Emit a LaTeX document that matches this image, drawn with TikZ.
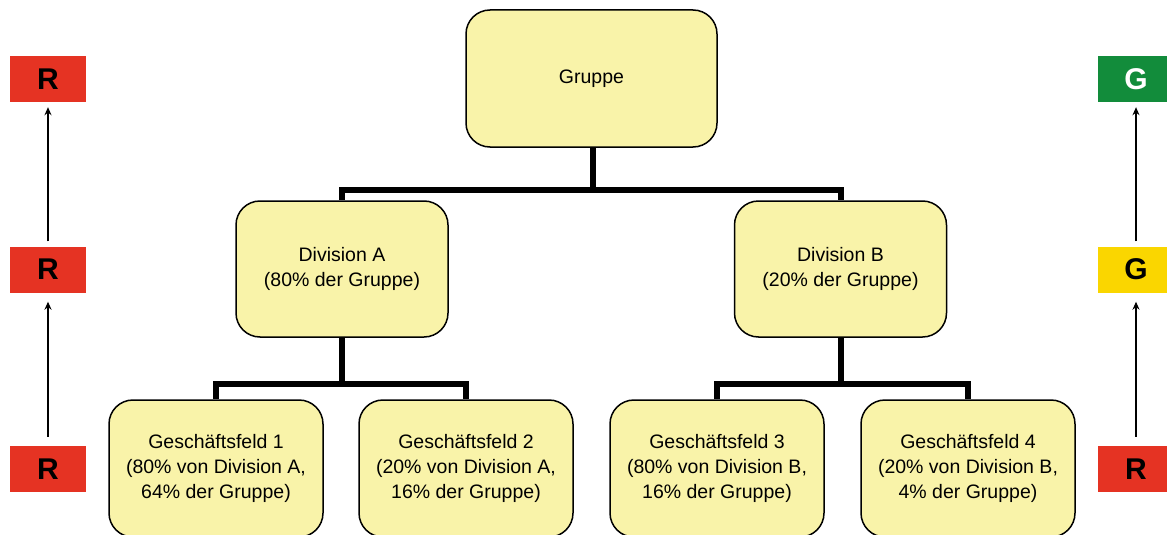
\documentclass[tikz,border=0pt]{standalone}
\usepackage{fontspec}
\setmainfont{Liberation Sans}
\usetikzlibrary{arrows.meta}
\definecolor{boxfill}{RGB}{249,243,169}
\definecolor{rred}{RGB}{229,51,35}
\definecolor{ggreen}{RGB}{18,140,59}
\definecolor{yyellow}{RGB}{250,214,0}
\begin{document}
\begin{tikzpicture}[x=1pt,y=-1pt,
  unit/.style={draw=black, line width=1.5pt, fill=boxfill, rounded corners=24pt,
    minimum width=212pt, minimum height=136pt, inner sep=0pt, align=center,
    font=\fontsize{19.5}{25}\selectfont},
  conn/.style={line width=6pt},
  rating/.style={minimum width=76pt, minimum height=46pt, inner sep=0pt,
    font=\fontsize{30}{30}\selectfont\bfseries},
  up/.style={line width=1.5pt, -{Stealth[length=8pt,width=7pt]}}
]
\useasboundingbox (0,0) rectangle (1167,535);
\node[unit, minimum width=251pt, minimum height=137pt] (g) at (591.5,78.5) {Gruppe};
\node[unit] (da) at (342,269) {Division A\\(80\% der Gruppe)};
\node[unit] (db) at (840.5,269) {Division B\\(20\% der Gruppe)};
\node[unit, minimum width=214pt, minimum height=137pt] (f1) at (216,468.5) {Geschäftsfeld 1\\(80\% von Division A,\\64\% der Gruppe)};
\node[unit, minimum width=214pt, minimum height=137pt] (f2) at (466,468.5) {Geschäftsfeld 2\\(20\% von Division A,\\16\% der Gruppe)};
\node[unit, minimum width=214pt, minimum height=137pt] (f3) at (717,468.5) {Geschäftsfeld 3\\(80\% von Division B,\\16\% der Gruppe)};
\node[unit, minimum width=214pt, minimum height=137pt] (f4) at (968,468.5) {Geschäftsfeld 4\\(20\% von Division B,\\4\% der Gruppe)};
\coordinate (j1) at (593,189.5);
\coordinate (j2) at (342,384);
\coordinate (j3) at (840.5,384);
\draw[conn] (g.south -| j1) -- (j1) -| (da.north);
\draw[conn] (j1) -| (db.north);
\draw[conn] (da.south) -- (j2) -| (f1.north);
\draw[conn] (j2) -| (f2.north);
\draw[conn] (db.south) -- (j3) -| (f3.north);
\draw[conn] (j3) -| (f4.north);
\node[rating, fill=rred] (l1) at (48,79) {R};
\node[rating, fill=rred] (l2) at (48,269.5) {R};
\node[rating, fill=rred] (l3) at (48,469) {R};
\node[rating, fill=ggreen, text=white] (r1) at (1136,79) {G};
\node[rating, fill=yyellow] (r2) at (1136,269.5) {G};
\node[rating, fill=rred] (r3) at (1136,469) {R};
\draw[up, shorten <=9pt, shorten >=9pt] (l3.north) -- (l2.south);
\draw[up, shorten <=5pt, shorten >=5pt] (l2.north) -- (l1.south);
\draw[up, shorten <=9pt, shorten >=9pt] (r3.north) -- (r2.south);
\draw[up, shorten <=5pt, shorten >=5pt] (r2.north) -- (r1.south);
\end{tikzpicture}
\end{document}
